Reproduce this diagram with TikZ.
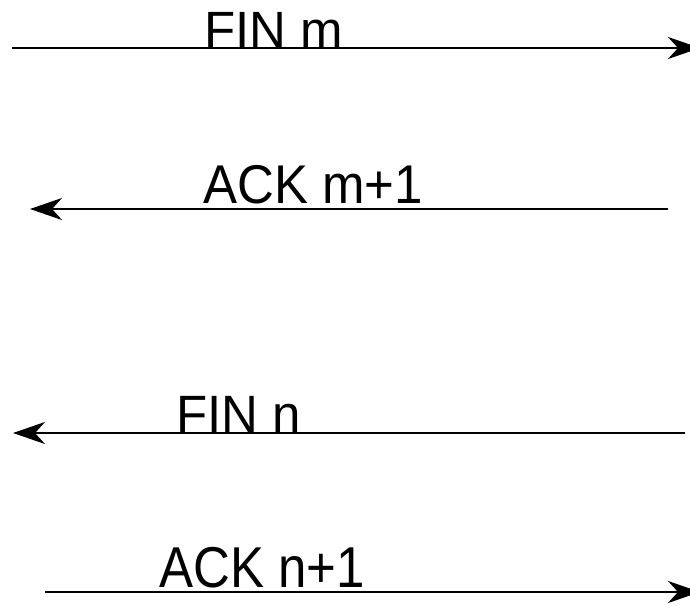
\documentclass[tikz,border=0pt]{standalone}
\usepackage{fontspec}
\setmainfont{Liberation Sans}
\usetikzlibrary{arrows.meta}
\begin{document}
\begin{tikzpicture}[x=1pt,y=-1pt,
  msg/.style={line width=2.2pt,-{Stealth[length=32pt,width=22pt,inset=10pt]}},
  lbl/.style={anchor=base west,inner sep=0pt,font=\fontsize{51}{60}\selectfont}]
\useasboundingbox[fill=white] (0,0) rectangle (690,605);
% message endpoints
\coordinate (a1) at (12,48);  \coordinate (b1) at (700,48);
\coordinate (a2) at (668,209); \coordinate (b2) at (30,209);
\coordinate (a3) at (685,433); \coordinate (b3) at (13,433);
\coordinate (a4) at (45,592);  \coordinate (b4) at (700,592);
% labels
\node[lbl,yscale=1.0]  (finm) at (204,47) {FIN m};
\node[lbl,yscale=1.07] (ackm) at (203,203) {ACK m+1};
\node[lbl,yscale=1.03] (finn) at (176,432) {FIN n};
\node[lbl,yscale=1.13] (ackn) at (159,587) {ACK n+1};
% arrows
\draw[msg] (a1) -- (b1);
\draw[msg] (a2) -- (b2);
\draw[msg] (a3) -- (b3);
\draw[msg] (a4) -- (b4);
\end{tikzpicture}
\end{document}
